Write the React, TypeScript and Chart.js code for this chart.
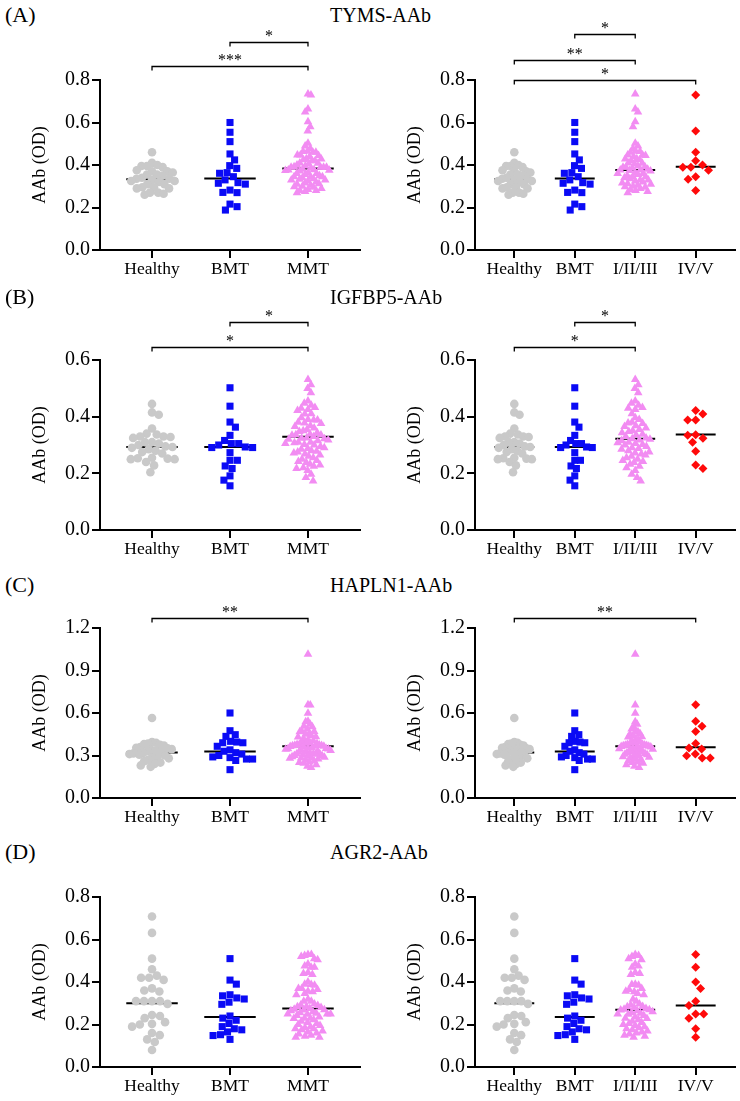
import React, { useEffect, useRef } from 'react';
import { Chart, registerables } from 'chart.js';

Chart.register(...registerables);

const SERIF = "'Liberation Serif', 'Times New Roman', Times, serif";

// ---------- categories ----------
const leftCategories = ['Healthy', 'BMT', 'MMT'];
const rightCategories = ['Healthy', 'BMT', 'I/II/III', 'IV/V'];

// ---------- (A) TYMS-AAb ----------
const tymsHealthy = [0.46, 0.41, 0.40, 0.395, 0.395, 0.39, 0.375, 0.37, 0.37, 0.365, 0.355, 0.355, 0.35, 0.34, 0.335, 0.335, 0.33, 0.325, 0.325, 0.32, 0.31, 0.31, 0.295, 0.295, 0.29, 0.29, 0.27, 0.27, 0.265, 0.26];
const tymsBMT = [0.60, 0.554, 0.51, 0.452, 0.424, 0.397, 0.384, 0.364, 0.361, 0.345, 0.33, 0.317, 0.314, 0.31, 0.282, 0.271, 0.27, 0.216, 0.204, 0.188];
const tymsStage123 = [0.734, 0.663, 0.65, 0.604, 0.58, 0.502, 0.49, 0.478, 0.465, 0.463, 0.46, 0.447, 0.447, 0.445, 0.44, 0.43, 0.428, 0.425, 0.42, 0.41, 0.408, 0.405, 0.395, 0.392, 0.39, 0.39, 0.385, 0.38, 0.378, 0.376, 0.374, 0.372, 0.365, 0.36, 0.36, 0.355, 0.35, 0.345, 0.345, 0.34, 0.335, 0.33, 0.33, 0.325, 0.32, 0.315, 0.312, 0.31, 0.305, 0.3, 0.298, 0.295, 0.29, 0.285, 0.28, 0.275, 0.27];
const tymsStage45 = [0.73, 0.56, 0.46, 0.42, 0.40, 0.39, 0.39, 0.375, 0.345, 0.333, 0.28];
const tymsMediansLeft = [0.333, 0.337, 0.383];
const tymsMediansRight = [0.333, 0.337, 0.376, 0.392];
const tymsBracketsLeft = [
  { from: 1, to: 2, label: '*', y: 0.979 },
  { from: 0, to: 2, label: '***', y: 0.866 },
];
const tymsBracketsRight = [
  { from: 1, to: 2, label: '*', y: 1.016 },
  { from: 0, to: 2, label: '**', y: 0.894 },
  { from: 0, to: 3, label: '*', y: 0.8 },
];

// ---------- (B) IGFBP5-AAb ----------
const igfHealthy = [0.445, 0.415, 0.407, 0.358, 0.34, 0.337, 0.33, 0.33, 0.328, 0.325, 0.31, 0.31, 0.305, 0.30, 0.295, 0.293, 0.29, 0.285, 0.28, 0.275, 0.27, 0.255, 0.253, 0.252, 0.25, 0.25, 0.24, 0.228, 0.204];
const igfBMT = [0.502, 0.437, 0.381, 0.363, 0.334, 0.316, 0.305, 0.305, 0.30, 0.293, 0.291, 0.291, 0.273, 0.246, 0.246, 0.226, 0.217, 0.191, 0.176, 0.156];
const igfStage123 = [0.531, 0.513, 0.499, 0.484, 0.455, 0.447, 0.44, 0.432, 0.43, 0.425, 0.41, 0.396, 0.39, 0.38, 0.378, 0.376, 0.368, 0.365, 0.36, 0.355, 0.35, 0.348, 0.343, 0.338, 0.335, 0.33, 0.325, 0.322, 0.32, 0.318, 0.315, 0.31, 0.308, 0.305, 0.302, 0.3, 0.295, 0.29, 0.288, 0.285, 0.28, 0.275, 0.272, 0.268, 0.265, 0.26, 0.255, 0.25, 0.245, 0.242, 0.238, 0.232, 0.225, 0.22, 0.21, 0.197, 0.185, 0.173];
const igfStage45 = [0.422, 0.409, 0.388, 0.388, 0.336, 0.334, 0.324, 0.31, 0.278, 0.229, 0.217];
const igfMediansLeft = [0.293, 0.293, 0.329];
const igfMediansRight = [0.293, 0.293, 0.322, 0.337];
const igfBracketsLeft = [
  { from: 1, to: 2, label: '*', y: 0.735 },
  { from: 0, to: 2, label: '*', y: 0.647 },
];
const igfBracketsRight = [
  { from: 1, to: 2, label: '*', y: 0.735 },
  { from: 0, to: 2, label: '*', y: 0.647 },
];

// ---------- (C) HAPLN1-AAb ----------
const hapHealthy = [0.565, 0.395, 0.39, 0.385, 0.38, 0.375, 0.37, 0.36, 0.355, 0.35, 0.345, 0.34, 0.335, 0.33, 0.322, 0.318, 0.315, 0.31, 0.305, 0.30, 0.29, 0.285, 0.28, 0.27, 0.26, 0.25, 0.24, 0.23, 0.22];
const hapBMT = [0.60, 0.475, 0.447, 0.435, 0.40, 0.395, 0.39, 0.39, 0.365, 0.34, 0.33, 0.32, 0.31, 0.30, 0.29, 0.285, 0.275, 0.275, 0.265, 0.20];
const hapStage123 = [1.014, 0.656, 0.598, 0.539, 0.52, 0.503, 0.487, 0.47, 0.468, 0.456, 0.45, 0.44, 0.433, 0.43, 0.42, 0.41, 0.405, 0.395, 0.39, 0.386, 0.38, 0.378, 0.375, 0.372, 0.37, 0.368, 0.366, 0.365, 0.364, 0.36, 0.355, 0.35, 0.348, 0.345, 0.34, 0.335, 0.331, 0.328, 0.325, 0.32, 0.315, 0.31, 0.308, 0.305, 0.3, 0.295, 0.292, 0.288, 0.28, 0.275, 0.268, 0.262, 0.255, 0.25, 0.245, 0.235, 0.225, 0.216];
const hapStage45 = [0.659, 0.541, 0.506, 0.47, 0.384, 0.353, 0.346, 0.311, 0.299, 0.282, 0.282];
const hapMediansLeft = [0.322, 0.329, 0.365];
const hapMediansRight = [0.322, 0.329, 0.365, 0.358];
const hapBracketsLeft = [{ from: 0, to: 2, label: '**', y: 1.27 }];
const hapBracketsRight = [{ from: 0, to: 3, label: '**', y: 1.27 }];

// ---------- (D) AGR2-AAb ----------
const agrHealthy = [0.708, 0.631, 0.51, 0.46, 0.43, 0.42, 0.42, 0.41, 0.37, 0.36, 0.355, 0.31, 0.31, 0.31, 0.31, 0.297, 0.245, 0.24, 0.23, 0.211, 0.203, 0.2, 0.19, 0.16, 0.15, 0.13, 0.118, 0.08];
const agrBMT = [0.51, 0.409, 0.39, 0.34, 0.335, 0.325, 0.32, 0.305, 0.295, 0.24, 0.23, 0.22, 0.205, 0.19, 0.18, 0.175, 0.165, 0.152, 0.148, 0.13];
const agrStage123 = [0.53, 0.525, 0.52, 0.51, 0.505, 0.485, 0.475, 0.47, 0.445, 0.44, 0.435, 0.39, 0.388, 0.385, 0.37, 0.365, 0.357, 0.354, 0.346, 0.34, 0.319, 0.31, 0.296, 0.292, 0.285, 0.284, 0.28, 0.275, 0.272, 0.27, 0.268, 0.265, 0.26, 0.255, 0.253, 0.25, 0.248, 0.242, 0.235, 0.23, 0.228, 0.222, 0.215, 0.21, 0.205, 0.2, 0.195, 0.19, 0.185, 0.18, 0.175, 0.17, 0.165, 0.16, 0.155, 0.15, 0.145, 0.14];
const agrStage45 = [0.53, 0.47, 0.40, 0.37, 0.31, 0.29, 0.25, 0.25, 0.23, 0.18, 0.14];
const agrMediansLeft = [0.30, 0.235, 0.275];
const agrMediansRight = [0.30, 0.235, 0.27, 0.29];

// ---------- styles ----------
const STYLE_HEALTHY = { color: '#c9c9c9', shape: 'circle', r: 4.3, d: 8 };
const STYLE_BMT = { color: '#0a0af5', shape: 'rect', r: 5, d: 7.5 };
const STYLE_MMT = { color: '#f28cf2', shape: 'triangle', r: 5, d: 8 };
const STYLE_LATE = { color: '#ff0a0a', shape: 'rectRot', r: 4.5, d: 8 };

type Bracket = { from: number; to: number; label: string; y: number };
type Group = { values: number[]; style: typeof STYLE_HEALTHY };

function swarmOffsets(py: number[], d: number): number[] {
  const order = py.map((_, i) => i).sort((a, b) => py[a] - py[b]);
  const placed: { x: number; y: number }[] = [];
  const out = new Array(py.length).fill(0);
  let flip = 1;
  for (const i of order) {
    const y = py[i];
    const near = placed.filter((p) => Math.abs(p.y - y) < d);
    const cands: number[] = [0];
    for (const p of near) {
      const dx = Math.sqrt(d * d - (p.y - y) ** 2) + 0.01;
      cands.push(p.x + dx, p.x - dx);
    }
    const ok = (c: number) => near.every((p) => (p.x - c) ** 2 + (p.y - y) ** 2 >= d * d - 0.05);
    const valid = cands.filter(ok).sort((a, b) => Math.abs(a) - Math.abs(b));
    let best = valid[0];
    const ties = valid.filter((c) => Math.abs(Math.abs(c) - Math.abs(best)) < 0.5 && c !== 0);
    if (ties.length > 1) {
      best = ties.find((c) => Math.sign(c) === flip) ?? best;
      flip = -flip;
    }
    out[i] = best;
    placed.push({ x: best, y });
  }
  return out;
}

const bracketPlugin = {
  id: 'brackets',
  afterDraw(chart: any, _args: any, opts: any) {
    const items: Bracket[] = opts.items || [];
    const { ctx } = chart;
    const xs = chart.scales.x;
    const ys = chart.scales.y;
    ctx.save();
    ctx.strokeStyle = '#000';
    ctx.fillStyle = '#000';
    ctx.lineWidth = 1.3;
    ctx.font = `16px ${SERIF}`;
    ctx.textAlign = 'center';
    ctx.textBaseline = 'alphabetic';
    for (const b of items) {
      const x1 = xs.getPixelForValue(b.from);
      const x2 = xs.getPixelForValue(b.to);
      const yy = Math.round(ys.getPixelForValue(b.y)) + 0.5;
      ctx.beginPath();
      ctx.moveTo(x1, yy + 4);
      ctx.lineTo(x1, yy);
      ctx.lineTo(x2, yy);
      ctx.lineTo(x2, yy + 4);
      ctx.stroke();
      ctx.fillText(b.label, (x1 + x2) / 2, yy - 2);
    }
    ctx.restore();
  },
};

const TOP_SPACE = 80;
const PLOT_H = 170;
const BOTTOM_SPACE = 40;
const CANVAS_H = TOP_SPACE + PLOT_H + BOTTOM_SPACE;

function DotPanel(props: {
  left: number;
  top: number;
  groups: Group[];
  categories: string[];
  medians: number[];
  brackets: Bracket[];
  yMax: number;
  yStep: number;
  xPad: number;
  padLeft: number;
  padRight: number;
}) {
  const ref = useRef<HTMLCanvasElement>(null);
  const { left, top, groups, categories, medians, brackets, yMax, yStep, xPad, padLeft, padRight } = props;

  useEffect(() => {
    const canvas = ref.current;
    if (!canvas) return;
    const pointSets = groups.map((g, i) => ({
      data: g.values.map((v) => ({ x: i, y: v })),
      pointStyle: g.style.shape,
      pointRadius: g.style.r,
      pointBackgroundColor: g.style.color,
      pointBorderWidth: 0,
      showLine: false,
      order: 0,
    }));
    const medianSets = medians.map((m, i) => ({
      data: [
        { x: i - 0.33, y: m },
        { x: i + 0.33, y: m },
      ],
      showLine: true,
      borderColor: '#000',
      borderWidth: 2,
      pointRadius: 0,
      order: 1,
    }));
    const chart = new Chart(canvas, {
      type: 'scatter',
      data: { datasets: [...pointSets, ...medianSets] as any },
      plugins: [bracketPlugin as any],
      options: {
        animation: false,
        responsive: false,
        events: [],
        layout: { padding: { left: padLeft, right: padRight, top: TOP_SPACE, bottom: 4 } },
        plugins: {
          legend: { display: false },
          tooltip: { enabled: false },
          brackets: { items: brackets },
        } as any,
        scales: {
          x: {
            type: 'linear',
            min: -xPad,
            max: categories.length - 1 + xPad,
            afterBuildTicks: (s: any) => {
              s.ticks = categories.map((_, i) => ({ value: i }));
            },
            afterFit: (s: any) => {
              s.height = 36;
            },
            ticks: {
              callback: (v: any) => categories[Math.round(Number(v))] ?? '',
              font: { family: SERIF, size: 17.5 },
              color: '#000',
              padding: 1,
              maxRotation: 0,
              autoSkip: false,
            },
            grid: { drawOnChartArea: false, drawTicks: true, tickLength: 8, color: '#000', lineWidth: 2 },
            border: { display: true, color: '#000', width: 2 },
          },
          y: {
            type: 'linear',
            min: 0,
            max: yMax,
            afterFit: (s: any) => {
              s.width = 75;
            },
            ticks: {
              stepSize: yStep,
              callback: (v: any) => Number(v).toFixed(1),
              font: { family: SERIF, size: 20 },
              color: '#000',
              padding: 2,
            },
            title: {
              display: true,
              text: 'AAb (OD)',
              font: { family: SERIF, size: 18 },
              color: '#000',
              padding: { top: 4, bottom: 0 },
            },
            grid: { drawOnChartArea: false, drawTicks: true, tickLength: 8, color: '#000', lineWidth: 2 },
            border: { display: true, color: '#000', width: 2 },
          },
        } as any,
      },
    });

    // beeswarm layout computed through the chart's own scales
    const xs: any = chart.scales.x;
    const ys: any = chart.scales.y;
    const unit = xs.getPixelForValue(1) - xs.getPixelForValue(0);
    const limit = 0.29 * unit;
    groups.forEach((g, i) => {
      const py = g.values.map((v) => ys.getPixelForValue(v));
      let offs = swarmOffsets(py, g.style.d);
      const maxAbs = Math.max(...offs.map((o) => Math.abs(o)));
      if (maxAbs > limit) offs = offs.map((o) => (o * limit) / maxAbs);
      (chart.data.datasets[i] as any).data = g.values.map((v, k) => ({ x: i + offs[k] / unit, y: v }));
    });
    chart.update('none');

    return () => chart.destroy();
  }, []);

  return (
    <canvas
      ref={ref}
      width={370}
      height={CANVAS_H}
      style={{ position: 'absolute', left, top, width: 370, height: CANVAS_H }}
    />
  );
}

const rows = [
  { tag: '(A)', title: 'TYMS-AAb', labelY: 15, chartTop: 80, yMax: 0.8, yStep: 0.2, healthy: tymsHealthy, bmt: tymsBMT, s123: tymsStage123, s45: tymsStage45, medL: tymsMediansLeft, medR: tymsMediansRight, brL: tymsBracketsLeft, brR: tymsBracketsRight },
  { tag: '(B)', title: 'IGFBP5-AAb', labelY: 297, chartTop: 360, yMax: 0.6, yStep: 0.2, healthy: igfHealthy, bmt: igfBMT, s123: igfStage123, s45: igfStage45, medL: igfMediansLeft, medR: igfMediansRight, brL: igfBracketsLeft, brR: igfBracketsRight },
  { tag: '(C)', title: 'HAPLN1-AAb', labelY: 585, chartTop: 628, yMax: 1.2, yStep: 0.3, healthy: hapHealthy, bmt: hapBMT, s123: hapStage123, s45: hapStage45, medL: hapMediansLeft, medR: hapMediansRight, brL: hapBracketsLeft, brR: hapBracketsRight },
  { tag: '(D)', title: 'AGR2-AAb', labelY: 852, chartTop: 897, yMax: 0.8, yStep: 0.2, healthy: agrHealthy, bmt: agrBMT, s123: agrStage123, s45: agrStage45, medL: agrMediansLeft, medR: agrMediansRight, brL: [] as Bracket[], brR: [] as Bracket[] },
];

export default function App() {
  return (
    <div
      style={{
        position: 'absolute',
        left: 0,
        top: 0,
        width: 740,
        height: 1101,
        overflow: 'hidden',
        background: '#fff',
        fontFamily: SERIF,
        color: '#000',
      }}
    >
      {rows.map((r) => (
        <React.Fragment key={r.tag}>
          <div style={{ position: 'absolute', left: 5, top: r.labelY - 11, fontSize: 22, lineHeight: '22px' }}>{r.tag}</div>
          <div style={{ position: 'absolute', left: 330, top: r.labelY - 10, fontSize: 20, lineHeight: '20px' }}>{r.title}</div>
          <DotPanel
            left={0}
            top={r.chartTop - TOP_SPACE}
            groups={[
              { values: r.healthy, style: STYLE_HEALTHY },
              { values: r.bmt, style: STYLE_BMT },
              { values: r.s123.concat(r.s45), style: STYLE_MMT },
            ]}
            categories={leftCategories}
            medians={r.medL}
            brackets={r.brL}
            yMax={r.yMax}
            yStep={r.yStep}
            xPad={0.667}
            padLeft={25}
            padRight={10}
          />
          <DotPanel
            left={370}
            top={r.chartTop - TOP_SPACE}
            groups={[
              { values: r.healthy, style: STYLE_HEALTHY },
              { values: r.bmt, style: STYLE_BMT },
              { values: r.s123, style: STYLE_MMT },
              { values: r.s45, style: STYLE_LATE },
            ]}
            categories={rightCategories}
            medians={r.medR}
            brackets={r.brR}
            yMax={r.yMax}
            yStep={r.yStep}
            xPad={0.65}
            padLeft={30}
            padRight={5}
          />
        </React.Fragment>
      ))}
    </div>
  );
}
